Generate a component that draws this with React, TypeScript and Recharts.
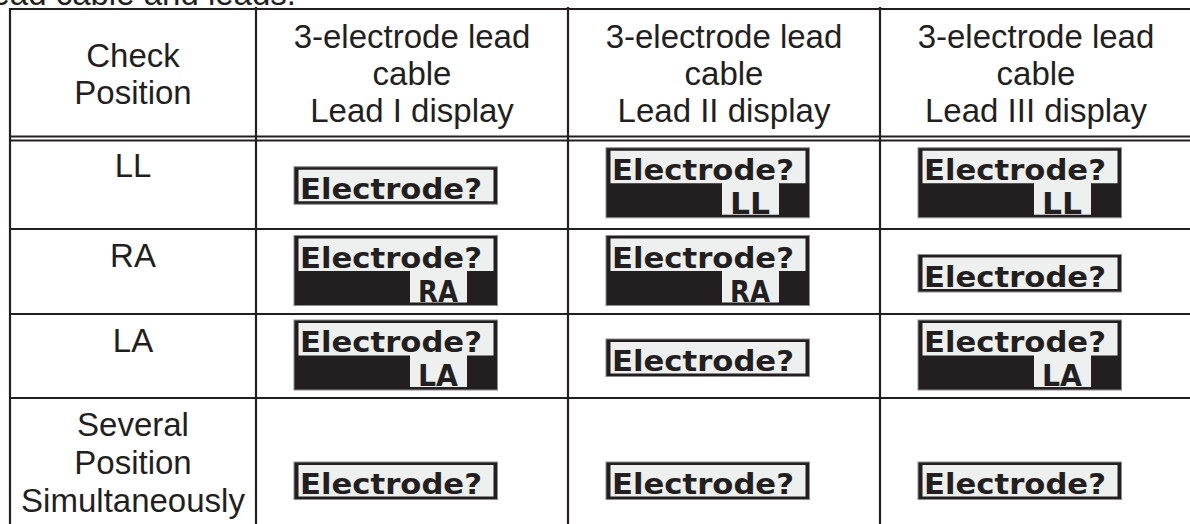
import React from 'react';
import { ScatterChart, Scatter, XAxis, YAxis, ReferenceLine } from 'recharts';

// ---------- content ----------
const captionText = 'lead cable and leads.';
const headerTitles = [
  'Check\nPosition',
  '3-electrode lead\ncable\nLead I display',
  '3-electrode lead\ncable\nLead II display',
  '3-electrode lead\ncable\nLead III display',
];
const checkPositions = ['LL', 'RA', 'LA', 'Several\nPosition\nSimultaneously'];
const displayText = 'Electrode?';
// electrode shown on the second line of the display ('' = single line display)
const leadIShown = ['', 'RA', 'LA', ''];
const leadIIShown = ['LL', 'RA', '', ''];
const leadIIIShown = ['LL', '', 'LA', ''];

// ---------- layout ----------
const W = 1190;
const H = 524;
const COL_EDGES = [10, 256, 568, 880, 1192];
const ROW_EDGES = [9, 138.5, 229, 314, 398, 560];
const INK = '#231f20';
const LCD_LIGHT = '#eef0ef';
const FONT = '"Liberation Sans", Arial, Helvetica, sans-serif';
const LCD_FONT = '"DejaVu Sans", "Liberation Sans", sans-serif';
const FS = 33;

const colCenter = (c: number) => (COL_EDGES[c] + COL_EDGES[c + 1]) / 2;
const rowCenter = (r: number) => (ROW_EDGES[r] + ROW_EDGES[r + 1]) / 2;

const captionData = [{ x: 296, y: 5, text: captionText }];
const headerData = headerTitles.map((t, i) => ({
  x: colCenter(i),
  y: rowCenter(0),
  lines: t.split('\n'),
}));
const rowLabelData = checkPositions.map((t, r) => ({
  x: colCenter(0),
  y: ROW_EDGES[r + 1],
  lines: t.split('\n'),
}));
const shownSeries = [leadIShown, leadIIShown, leadIIIShown];
const displayData = shownSeries.flatMap((series, s) =>
  series.map((shown, r) => ({ x: COL_EDGES[s + 1], y: rowCenter(r + 1), shown })),
);

const CaptionShape = (p: any) => (
  <text x={p.cx} y={p.cy} textAnchor="end" fontFamily={FONT} fontSize={FS} fill={INK}>
    {p.payload.text}
  </text>
);

const HeaderShape = (p: any) => {
  const lines: string[] = p.payload.lines;
  const step = 37;
  const first = p.cy - ((lines.length - 1) * step) / 2 + 11.5;
  return (
    <text textAnchor="middle" fontFamily={FONT} fontSize={FS} fill={INK}>
      {lines.map((l, i) => (
        <tspan key={i} x={p.cx} y={first + i * step}>
          {l}
        </tspan>
      ))}
    </text>
  );
};

const RowLabelShape = (p: any) => {
  const lines: string[] = p.payload.lines;
  const step = 38;
  return (
    <text textAnchor="middle" fontFamily={FONT} fontSize={FS} fill={INK}>
      {lines.map((l, i) => (
        <tspan key={i} x={p.cx} y={p.cy + 38 + i * step}>
          {l}
        </tspan>
      ))}
    </text>
  );
};

const DisplayShape = (p: any) => {
  const shown: string = p.payload.shown;
  const bx = p.cx + 38;
  const by = shown ? p.cy - 36 : p.cy - 17;
  const w = 203.5;
  const h = shown ? 70 : 37.5;
  return (
    <g>
      <rect x={bx} y={by} width={w} height={h} fill={INK} stroke="#8c8c8c" strokeWidth={1} />
      <rect x={bx + 4.5} y={by + 3} width={w - 8.5} height={shown ? 32.5 : 31.5} fill={LCD_LIGHT} />
      {shown ? <rect x={bx + 116} y={by + 34} width={57} height={33} fill={LCD_LIGHT} /> : null}
      <text
        x={bx + 6}
        y={by + 32}
        fontFamily={LCD_FONT}
        fontWeight="bold"
        fontSize={29}
        textLength={182}
        lengthAdjust="spacingAndGlyphs"
        fill={INK}
      >
        {displayText}
      </text>
      {shown ? (
        <text
          x={bx + 124}
          y={by + 66}
          fontFamily={LCD_FONT}
          fontWeight="bold"
          fontSize={30}
          textLength={40}
          lengthAdjust="spacingAndGlyphs"
          fill={INK}
        >
          {shown}
        </text>
      ) : null}
    </g>
  );
};

const hLines = [9, 136.5, 140.5, 229, 314, 398];

export default function App() {
  return (
    <div style={{ position: 'absolute', left: 0, top: 0, width: W, height: H, background: '#fff' }}>
      <ScatterChart width={W} height={H} margin={{ top: 0, right: 0, bottom: 0, left: 0 }}>
        <XAxis type="number" dataKey="x" domain={[0, W]} hide allowDataOverflow />
        <YAxis type="number" dataKey="y" domain={[0, H]} reversed hide allowDataOverflow />
        {hLines.map((y, i) => (
          <ReferenceLine
            key={'h' + i}
            segment={[
              { x: COL_EDGES[0] - 1, y },
              { x: W, y },
            ]}
            stroke={INK}
            strokeWidth={i === 1 || i === 2 ? 2 : 2.2}
            ifOverflow="visible"
          />
        ))}
        {COL_EDGES.slice(0, 4).map((x, i) => (
          <ReferenceLine
            key={'v' + i}
            segment={[
              { x, y: i === 0 ? 8 : 7 },
              { x, y: H },
            ]}
            stroke={INK}
            strokeWidth={2.2}
            ifOverflow="visible"
          />
        ))}
        <Scatter data={captionData} shape={CaptionShape} isAnimationActive={false} />
        <Scatter data={headerData} shape={HeaderShape} isAnimationActive={false} />
        <Scatter data={rowLabelData} shape={RowLabelShape} isAnimationActive={false} />
        <Scatter data={displayData} shape={DisplayShape} isAnimationActive={false} />
      </ScatterChart>
    </div>
  );
}
